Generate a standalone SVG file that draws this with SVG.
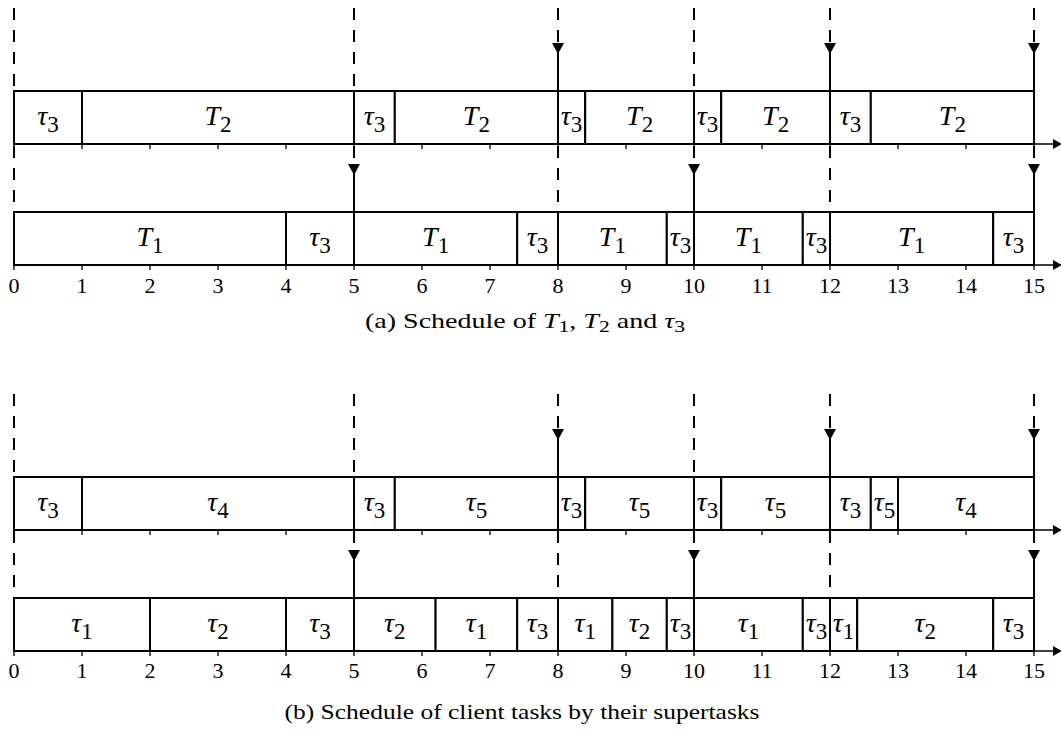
<svg xmlns="http://www.w3.org/2000/svg" xmlns:xlink="http://www.w3.org/1999/xlink" width="1061" height="731" viewBox="0 0 1061 731">
  <style>
    .seg rect { fill: #fff; stroke: #000; stroke-width: 2; }
    .lbl { font-family: "Liberation Serif", "Times New Roman", serif; font-size: 28px; text-anchor: middle; fill: #000; }
    .lbl .v { font-style: italic; }
    .lbl .s { font-size: 23px; }
    .num { font-family: "Liberation Serif", "Times New Roman", serif; font-size: 22px; text-anchor: middle; fill: #000; }
    .cap { font-family: "Liberation Serif", "Times New Roman", serif; font-size: 22px; text-anchor: middle; fill: #000; }
    .cap .v { font-style: italic; }
    .cap .s { font-size: 17px; }
    .dash { stroke: #000; stroke-width: 2; stroke-dasharray: 12 10; fill: none; }
    .solid { stroke: #000; stroke-width: 2; fill: none; }
    .axis { stroke: #000; stroke-width: 1.3; fill: none; }
    .tick { stroke: #000; stroke-width: 1.3; }
  </style>
  <defs>
    <!-- downward release marker, tip at origin -->
    <path id="down" d="M -6 -11 L 6 -11 L 0 0 Z" fill="#000"/>
    <!-- axis arrow head, tip at origin -->
    <path id="right" d="M -9 -5 L 0 0 L -9 5 Z" fill="#000"/>
    <!-- ticks at integer times, unit = 68px starting at x=14 -->
    <g id="ticks">
      <line class="tick" x1="14" y1="0" x2="14" y2="5"/>
      <line class="tick" x1="82" y1="0" x2="82" y2="5"/>
      <line class="tick" x1="150" y1="0" x2="150" y2="5"/>
      <line class="tick" x1="218" y1="0" x2="218" y2="5"/>
      <line class="tick" x1="286" y1="0" x2="286" y2="5"/>
      <line class="tick" x1="354" y1="0" x2="354" y2="5"/>
      <line class="tick" x1="422" y1="0" x2="422" y2="5"/>
      <line class="tick" x1="490" y1="0" x2="490" y2="5"/>
      <line class="tick" x1="558" y1="0" x2="558" y2="5"/>
      <line class="tick" x1="626" y1="0" x2="626" y2="5"/>
      <line class="tick" x1="694" y1="0" x2="694" y2="5"/>
      <line class="tick" x1="762" y1="0" x2="762" y2="5"/>
      <line class="tick" x1="830" y1="0" x2="830" y2="5"/>
      <line class="tick" x1="898" y1="0" x2="898" y2="5"/>
      <line class="tick" x1="966" y1="0" x2="966" y2="5"/>
      <line class="tick" x1="1034" y1="0" x2="1034" y2="5"/>
    </g>
    <g id="numbers">
      <text class="num" x="14" y="0">0</text>
      <text class="num" x="82" y="0">1</text>
      <text class="num" x="150" y="0">2</text>
      <text class="num" x="218" y="0">3</text>
      <text class="num" x="286" y="0">4</text>
      <text class="num" x="354" y="0">5</text>
      <text class="num" x="422" y="0">6</text>
      <text class="num" x="490" y="0">7</text>
      <text class="num" x="558" y="0">8</text>
      <text class="num" x="626" y="0">9</text>
      <text class="num" x="694" y="0">10</text>
      <text class="num" x="762" y="0">11</text>
      <text class="num" x="830" y="0">12</text>
      <text class="num" x="898" y="0">13</text>
      <text class="num" x="966" y="0">14</text>
      <text class="num" x="1034" y="0">15</text>
    </g>
  </defs>

  <!-- ===== (a) supertask schedule ===== -->
  <g id="chart-a">
    <g id="connectors-a">
      <!-- dashed period boundaries, upper lane -->
      <path class="dash" d="M14 8 V91 M354 8 V91 M558 8 V43 M694 8 V91 M830 8 V43 M1034 8 V43"/>
      <path class="solid" d="M558 52 V91 M830 52 V91 M1034 52 V91"/>
      <use xlink:href="#down" x="558" y="54"/>
      <use xlink:href="#down" x="830" y="54"/>
      <use xlink:href="#down" x="1034" y="54"/>
      <!-- dashed period boundaries, lower lane -->
      <path class="dash" d="M14 146 V212 M354 146 V164 M558 146 V212 M694 146 V164 M830 146 V212 M1034 146 V164"/>
      <path class="solid" d="M354 173 V212 M694 173 V212 M1034 173 V212"/>
      <use xlink:href="#down" x="354" y="175"/>
      <use xlink:href="#down" x="694" y="175"/>
      <use xlink:href="#down" x="1034" y="175"/>
      <!-- time axes -->
      <path class="axis" d="M14 144 H1054 M14 265 H1054"/>
      <use xlink:href="#right" x="1062" y="144"/>
      <use xlink:href="#right" x="1062" y="265"/>
      <use xlink:href="#ticks" x="0" y="144"/>
      <use xlink:href="#ticks" x="0" y="265"/>
    </g>

    <g id="row-T2" transform="translate(0,91)">
      <g id="a1-1" class="seg"><rect x="14" y="0" width="68" height="53"/><text class="lbl" x="48" y="34"><tspan class="v">τ</tspan><tspan class="s" dy="7">3</tspan></text></g>
      <g id="a1-2" class="seg"><rect x="82" y="0" width="272" height="53"/><text class="lbl" x="218" y="34"><tspan class="v">T</tspan><tspan class="s" dy="7">2</tspan></text></g>
      <g id="a1-3" class="seg"><rect x="354" y="0" width="40.8" height="53"/><text class="lbl" x="374.4" y="34"><tspan class="v">τ</tspan><tspan class="s" dy="7">3</tspan></text></g>
      <g id="a1-4" class="seg"><rect x="394.8" y="0" width="163.2" height="53"/><text class="lbl" x="476.4" y="34"><tspan class="v">T</tspan><tspan class="s" dy="7">2</tspan></text></g>
      <g id="a1-5" class="seg"><rect x="558" y="0" width="27.2" height="53"/><text class="lbl" x="571.6" y="34"><tspan class="v">τ</tspan><tspan class="s" dy="7">3</tspan></text></g>
      <g id="a1-6" class="seg"><rect x="585.2" y="0" width="108.8" height="53"/><text class="lbl" x="639.6" y="34"><tspan class="v">T</tspan><tspan class="s" dy="7">2</tspan></text></g>
      <g id="a1-7" class="seg"><rect x="694" y="0" width="27.2" height="53"/><text class="lbl" x="707.6" y="34"><tspan class="v">τ</tspan><tspan class="s" dy="7">3</tspan></text></g>
      <g id="a1-8" class="seg"><rect x="721.2" y="0" width="108.8" height="53"/><text class="lbl" x="775.6" y="34"><tspan class="v">T</tspan><tspan class="s" dy="7">2</tspan></text></g>
      <g id="a1-9" class="seg"><rect x="830" y="0" width="40.8" height="53"/><text class="lbl" x="850.4" y="34"><tspan class="v">τ</tspan><tspan class="s" dy="7">3</tspan></text></g>
      <g id="a1-10" class="seg"><rect x="870.8" y="0" width="163.2" height="53"/><text class="lbl" x="952.4" y="34"><tspan class="v">T</tspan><tspan class="s" dy="7">2</tspan></text></g>
    </g>

    <g id="row-T1" transform="translate(0,212)">
      <g id="a2-1" class="seg"><rect x="14" y="0" width="272" height="53"/><text class="lbl" x="150" y="34"><tspan class="v">T</tspan><tspan class="s" dy="7">1</tspan></text></g>
      <g id="a2-2" class="seg"><rect x="286" y="0" width="68" height="53"/><text class="lbl" x="320" y="34"><tspan class="v">τ</tspan><tspan class="s" dy="7">3</tspan></text></g>
      <g id="a2-3" class="seg"><rect x="354" y="0" width="163.2" height="53"/><text class="lbl" x="435.6" y="34"><tspan class="v">T</tspan><tspan class="s" dy="7">1</tspan></text></g>
      <g id="a2-4" class="seg"><rect x="517.2" y="0" width="40.8" height="53"/><text class="lbl" x="537.6" y="34"><tspan class="v">τ</tspan><tspan class="s" dy="7">3</tspan></text></g>
      <g id="a2-5" class="seg"><rect x="558" y="0" width="108.8" height="53"/><text class="lbl" x="612.4" y="34"><tspan class="v">T</tspan><tspan class="s" dy="7">1</tspan></text></g>
      <g id="a2-6" class="seg"><rect x="666.8" y="0" width="27.2" height="53"/><text class="lbl" x="680.4" y="34"><tspan class="v">τ</tspan><tspan class="s" dy="7">3</tspan></text></g>
      <g id="a2-7" class="seg"><rect x="694" y="0" width="108.8" height="53"/><text class="lbl" x="748.4" y="34"><tspan class="v">T</tspan><tspan class="s" dy="7">1</tspan></text></g>
      <g id="a2-8" class="seg"><rect x="802.8" y="0" width="27.2" height="53"/><text class="lbl" x="816.4" y="34"><tspan class="v">τ</tspan><tspan class="s" dy="7">3</tspan></text></g>
      <g id="a2-9" class="seg"><rect x="830" y="0" width="163.2" height="53"/><text class="lbl" x="911.6" y="34"><tspan class="v">T</tspan><tspan class="s" dy="7">1</tspan></text></g>
      <g id="a2-10" class="seg"><rect x="993.2" y="0" width="40.8" height="53"/><text class="lbl" x="1013.6" y="34"><tspan class="v">τ</tspan><tspan class="s" dy="7">3</tspan></text></g>
    </g>

    <use id="axis-a-numbers" xlink:href="#numbers" x="0" y="293"/>
    <text id="caption-a" class="cap" x="525" y="328" textLength="320" lengthAdjust="spacingAndGlyphs">(a) Schedule of <tspan class="v">T</tspan><tspan class="s" dy="4">1</tspan><tspan dy="-4">,  </tspan><tspan class="v">T</tspan><tspan class="s" dy="4">2</tspan><tspan dy="-4">  and  </tspan><tspan class="v">τ</tspan><tspan class="s" dy="4">3</tspan></text>
  </g>

  <!-- ===== (b) client task schedule ===== -->
  <g id="chart-b">
    <g id="connectors-b">
      <path class="dash" d="M14 394 V477 M354 394 V477 M558 394 V429 M694 394 V477 M830 394 V429 M1034 394 V429"/>
      <path class="solid" d="M558 438 V477 M830 438 V477 M1034 438 V477"/>
      <use xlink:href="#down" x="558" y="440"/>
      <use xlink:href="#down" x="830" y="440"/>
      <use xlink:href="#down" x="1034" y="440"/>
      <path class="dash" d="M14 531 V598 M354 531 V549 M558 531 V598 M694 531 V549 M830 531 V598 M1034 531 V549"/>
      <path class="solid" d="M354 559 V598 M694 559 V598 M1034 559 V598"/>
      <use xlink:href="#down" x="354" y="561"/>
      <use xlink:href="#down" x="694" y="561"/>
      <use xlink:href="#down" x="1034" y="561"/>
      <path class="axis" d="M14 530 H1054 M14 651 H1054"/>
      <use xlink:href="#right" x="1062" y="530"/>
      <use xlink:href="#right" x="1062" y="651"/>
      <use xlink:href="#ticks" x="0" y="530"/>
      <use xlink:href="#ticks" x="0" y="651"/>
    </g>

    <g id="row-S2" transform="translate(0,477)">
      <g id="b1-1" class="seg"><rect x="14" y="0" width="68" height="53"/><text class="lbl" x="48" y="34"><tspan class="v">τ</tspan><tspan class="s" dy="7">3</tspan></text></g>
      <g id="b1-2" class="seg"><rect x="82" y="0" width="272" height="53"/><text class="lbl" x="218" y="34"><tspan class="v">τ</tspan><tspan class="s" dy="7">4</tspan></text></g>
      <g id="b1-3" class="seg"><rect x="354" y="0" width="40.8" height="53"/><text class="lbl" x="374.4" y="34"><tspan class="v">τ</tspan><tspan class="s" dy="7">3</tspan></text></g>
      <g id="b1-4" class="seg"><rect x="394.8" y="0" width="163.2" height="53"/><text class="lbl" x="476.4" y="34"><tspan class="v">τ</tspan><tspan class="s" dy="7">5</tspan></text></g>
      <g id="b1-5" class="seg"><rect x="558" y="0" width="27.2" height="53"/><text class="lbl" x="571.6" y="34"><tspan class="v">τ</tspan><tspan class="s" dy="7">3</tspan></text></g>
      <g id="b1-6" class="seg"><rect x="585.2" y="0" width="108.8" height="53"/><text class="lbl" x="639.6" y="34"><tspan class="v">τ</tspan><tspan class="s" dy="7">5</tspan></text></g>
      <g id="b1-7" class="seg"><rect x="694" y="0" width="27.2" height="53"/><text class="lbl" x="707.6" y="34"><tspan class="v">τ</tspan><tspan class="s" dy="7">3</tspan></text></g>
      <g id="b1-8" class="seg"><rect x="721.2" y="0" width="108.8" height="53"/><text class="lbl" x="775.6" y="34"><tspan class="v">τ</tspan><tspan class="s" dy="7">5</tspan></text></g>
      <g id="b1-9" class="seg"><rect x="830" y="0" width="40.8" height="53"/><text class="lbl" x="850.4" y="34"><tspan class="v">τ</tspan><tspan class="s" dy="7">3</tspan></text></g>
      <g id="b1-10" class="seg"><rect x="870.8" y="0" width="27.2" height="53"/><text class="lbl" x="884.4" y="34"><tspan class="v">τ</tspan><tspan class="s" dy="7">5</tspan></text></g>
      <g id="b1-11" class="seg"><rect x="898" y="0" width="136" height="53"/><text class="lbl" x="966" y="34"><tspan class="v">τ</tspan><tspan class="s" dy="7">4</tspan></text></g>
    </g>

    <g id="row-S1" transform="translate(0,598)">
      <g id="b2-1" class="seg"><rect x="14" y="0" width="136" height="53"/><text class="lbl" x="82" y="34"><tspan class="v">τ</tspan><tspan class="s" dy="7">1</tspan></text></g>
      <g id="b2-2" class="seg"><rect x="150" y="0" width="136" height="53"/><text class="lbl" x="218" y="34"><tspan class="v">τ</tspan><tspan class="s" dy="7">2</tspan></text></g>
      <g id="b2-3" class="seg"><rect x="286" y="0" width="68" height="53"/><text class="lbl" x="320" y="34"><tspan class="v">τ</tspan><tspan class="s" dy="7">3</tspan></text></g>
      <g id="b2-4" class="seg"><rect x="354" y="0" width="81.6" height="53"/><text class="lbl" x="394.8" y="34"><tspan class="v">τ</tspan><tspan class="s" dy="7">2</tspan></text></g>
      <g id="b2-5" class="seg"><rect x="435.6" y="0" width="81.6" height="53"/><text class="lbl" x="476.4" y="34"><tspan class="v">τ</tspan><tspan class="s" dy="7">1</tspan></text></g>
      <g id="b2-6" class="seg"><rect x="517.2" y="0" width="40.8" height="53"/><text class="lbl" x="537.6" y="34"><tspan class="v">τ</tspan><tspan class="s" dy="7">3</tspan></text></g>
      <g id="b2-7" class="seg"><rect x="558" y="0" width="54.4" height="53"/><text class="lbl" x="585.2" y="34"><tspan class="v">τ</tspan><tspan class="s" dy="7">1</tspan></text></g>
      <g id="b2-8" class="seg"><rect x="612.4" y="0" width="54.4" height="53"/><text class="lbl" x="639.6" y="34"><tspan class="v">τ</tspan><tspan class="s" dy="7">2</tspan></text></g>
      <g id="b2-9" class="seg"><rect x="666.8" y="0" width="27.2" height="53"/><text class="lbl" x="680.4" y="34"><tspan class="v">τ</tspan><tspan class="s" dy="7">3</tspan></text></g>
      <g id="b2-10" class="seg"><rect x="694" y="0" width="108.8" height="53"/><text class="lbl" x="748.4" y="34"><tspan class="v">τ</tspan><tspan class="s" dy="7">1</tspan></text></g>
      <g id="b2-11" class="seg"><rect x="802.8" y="0" width="27.2" height="53"/><text class="lbl" x="816.4" y="34"><tspan class="v">τ</tspan><tspan class="s" dy="7">3</tspan></text></g>
      <g id="b2-12" class="seg"><rect x="830" y="0" width="27.2" height="53"/><text class="lbl" x="843.6" y="34"><tspan class="v">τ</tspan><tspan class="s" dy="7">1</tspan></text></g>
      <g id="b2-13" class="seg"><rect x="857.2" y="0" width="136" height="53"/><text class="lbl" x="925.2" y="34"><tspan class="v">τ</tspan><tspan class="s" dy="7">2</tspan></text></g>
      <g id="b2-14" class="seg"><rect x="993.2" y="0" width="40.8" height="53"/><text class="lbl" x="1013.6" y="34"><tspan class="v">τ</tspan><tspan class="s" dy="7">3</tspan></text></g>
    </g>

    <use id="axis-b-numbers" xlink:href="#numbers" x="0" y="678"/>
    <text id="caption-b" class="cap" x="522" y="719" textLength="475" lengthAdjust="spacingAndGlyphs">(b) Schedule of client tasks by their supertasks</text>
  </g>
</svg>
